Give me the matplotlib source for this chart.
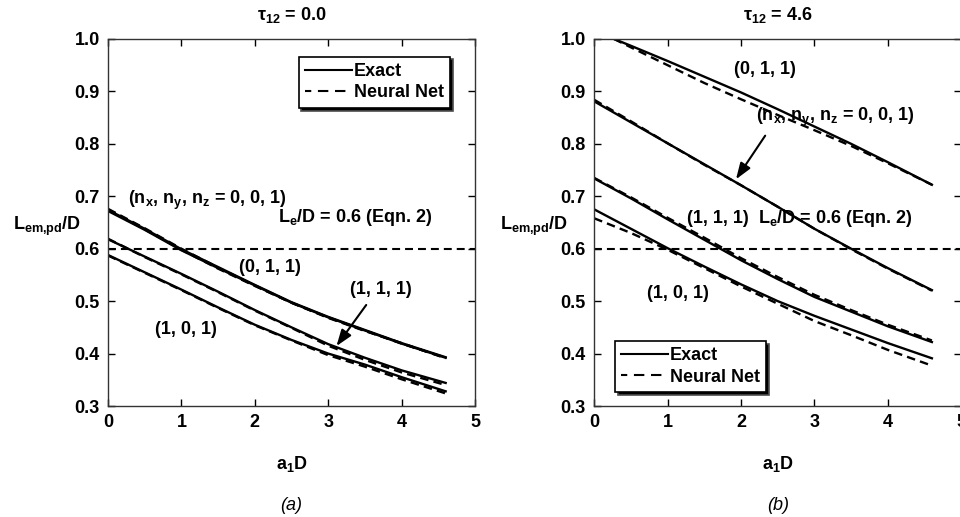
import matplotlib
matplotlib.use("Agg")
import matplotlib.pyplot as plt
from matplotlib.lines import Line2D

plt.rcParams['font.family'] = ['Liberation Sans', 'DejaVu Sans']
plt.rcParams['font.weight'] = 'bold'
plt.rcParams['mathtext.fontset'] = 'custom'
plt.rcParams['mathtext.rm'] = 'Liberation Sans:bold'
plt.rcParams['mathtext.it'] = 'Liberation Sans:bold'
plt.rcParams['mathtext.bf'] = 'Liberation Sans:bold'
plt.rcParams['mathtext.default'] = 'rm'

# ---- data ----
x = [0, 0.5, 1.0, 1.5, 2.0, 2.5, 3.0, 3.5, 4.0, 4.6]
x_r011 = [0.27, 0.5, 1.0, 1.5, 2.0, 2.5, 3.0, 3.5, 4.0, 4.6]

# (a) tau12 = 0.0
a001_exact = [0.672, 0.636, 0.597, 0.563, 0.530, 0.497, 0.469, 0.444, 0.419, 0.392]
a011_exact = [0.674, 0.638, 0.599, 0.565, 0.531, 0.498, 0.470, 0.445, 0.420, 0.393]
a111_exact = [0.618, 0.585, 0.552, 0.518, 0.483, 0.450, 0.418, 0.392, 0.368, 0.344]
a101_exact = [0.588, 0.555, 0.522, 0.488, 0.455, 0.426, 0.400, 0.379, 0.355, 0.328]
a001_nn = [0.675, 0.637, 0.598, 0.562, 0.529, 0.497, 0.468, 0.443, 0.420, 0.391]
a011_nn = [0.676, 0.639, 0.600, 0.564, 0.530, 0.497, 0.469, 0.444, 0.419, 0.392]
a111_nn = [0.619, 0.584, 0.551, 0.517, 0.482, 0.449, 0.415, 0.388, 0.364, 0.340]
a101_nn = [0.587, 0.554, 0.521, 0.487, 0.454, 0.425, 0.397, 0.375, 0.351, 0.324]

# (b) tau12 = 4.6
b011_exact = [1.0, 0.987, 0.958, 0.928, 0.898, 0.866, 0.833, 0.800, 0.765, 0.722]
b011_nn = [1.0, 0.984, 0.950, 0.916, 0.885, 0.855, 0.826, 0.796, 0.763, 0.722]
b001_exact = [0.881, 0.841, 0.801, 0.761, 0.721, 0.680, 0.638, 0.600, 0.563, 0.521]
b001_nn = [0.884, 0.843, 0.801, 0.760, 0.721, 0.680, 0.638, 0.599, 0.562, 0.520]
b111_exact = [0.734, 0.696, 0.656, 0.617, 0.578, 0.542, 0.508, 0.480, 0.452, 0.422]
b111_nn = [0.735, 0.698, 0.659, 0.621, 0.582, 0.546, 0.512, 0.483, 0.455, 0.425]
b101_exact = [0.675, 0.638, 0.601, 0.566, 0.532, 0.500, 0.472, 0.446, 0.420, 0.391]
b101_nn = [0.658, 0.630, 0.598, 0.563, 0.528, 0.495, 0.462, 0.435, 0.407, 0.377]

le_ratio = 0.6

fig = plt.figure(figsize=(9.6, 5.17), dpi=100)
axL = fig.add_axes([0.1125, 0.2147, 0.3823, 0.7099])
axR = fig.add_axes([0.619, 0.2147, 0.3823, 0.7099])

LW = 1.7
DASH = (0, (3.6, 2.2))
FS = 13
ARROW = dict(arrowstyle='-|>,head_length=0.7,head_width=0.25', color='black',
             lw=1.5, mutation_scale=14)


def style_axes(ax, title, panel):
    ax.set_xlim(0, 5)
    ax.set_ylim(0.3, 1.0)
    ax.set_xticks([0, 1, 2, 3, 4, 5])
    ax.set_yticks([0.3, 0.4, 0.5, 0.6, 0.7, 0.8, 0.9, 1.0])
    ax.set_yticklabels(['0.3', '0.4', '0.5', '0.6', '0.7', '0.8', '0.9', '1.0'])
    ax.tick_params(direction='in', top=True, right=True, length=5, width=1,
                   labelsize=FS, pad=6)
    for lab in ax.get_xticklabels() + ax.get_yticklabels():
        lab.set_fontweight('bold')
    for s in ax.spines.values():
        s.set_linewidth(1.0)
        s.set_color('#333333')
    ax.axhline(le_ratio, color='black', lw=1.5, ls=(0, (3.8, 2.4)))
    ax.text(0.5, 1.053, title, transform=ax.transAxes, ha='center',
            va='baseline', fontsize=FS, fontweight='bold')
    ax.text(0.5, -0.172, r'a$_1$D', transform=ax.transAxes, ha='center',
            va='baseline', fontsize=FS, fontweight='bold')
    ax.text(0.5, -0.284, panel, transform=ax.transAxes, ha='center',
            va='baseline', fontsize=FS, fontweight='normal', fontstyle='italic')
    ax.text(-0.258, 0.48, r'L$_{em{,}pd}$/D', transform=ax.transAxes, ha='left',
            va='baseline', fontsize=FS, fontweight='bold')


def add_legend(ax, **kw):
    handles = [Line2D([], [], color='black', lw=1.5),
               Line2D([], [], color='black', lw=1.5, ls=(2.0, (5.0, 3.2)))]
    leg = ax.legend(handles, ['Exact', 'Neural Net'], frameon=True, fancybox=False,
                    shadow={'facecolor': 'black', 'alpha': 1.0},
                    prop={'weight': 'bold', 'size': FS}, handlelength=2.6,
                    handletextpad=0.1, borderpad=0.35, labelspacing=0.25,
                    borderaxespad=0, **kw)
    leg.get_frame().set_edgecolor('black')
    leg.get_frame().set_linewidth(1.2)


# ---- panel (a) ----
style_axes(axL, r'$\tau_{12}$ = 0.0', '(a)')
for ye, yn in [(a001_exact, a001_nn), (a011_exact, a011_nn),
               (a111_exact, a111_nn), (a101_exact, a101_nn)]:
    axL.plot(x, ye, color='black', lw=LW)
    axL.plot(x, yn, color='black', lw=LW, ls=DASH)
add_legend(axL, loc='upper right', bbox_to_anchor=(0.932, 0.952))
axL.text(0.27, 0.693, r'(n$_x$, n$_y$, n$_z$ = 0, 0, 1)', fontsize=FS, va='center', ha='left')
axL.text(2.32, 0.659, r'L$_e$/D = 0.6 (Eqn. 2)', fontsize=FS, va='center', ha='left')
axL.text(2.2, 0.564, '(0, 1, 1)', fontsize=FS, va='center', ha='center')
axL.text(3.72, 0.522, '(1, 1, 1)', fontsize=FS, va='center', ha='center')
axL.text(1.06, 0.445, '(1, 0, 1)', fontsize=FS, va='center', ha='center')
axL.annotate('', xy=(3.09, 0.41), xytext=(3.54, 0.497), arrowprops=ARROW)

# ---- panel (b) ----
style_axes(axR, r'$\tau_{12}$ = 4.6', '(b)')
axR.plot(x_r011, b011_exact, color='black', lw=LW)
axR.plot(x_r011, b011_nn, color='black', lw=LW, ls=DASH)
for ye, yn in [(b001_exact, b001_nn), (b111_exact, b111_nn), (b101_exact, b101_nn)]:
    axR.plot(x, ye, color='black', lw=LW)
    axR.plot(x, yn, color='black', lw=LW, ls=DASH)
add_legend(axR, loc='lower left', bbox_to_anchor=(0.056, 0.038))
axR.text(2.32, 0.941, '(0, 1, 1)', fontsize=FS, va='center', ha='center')
axR.text(2.21, 0.851, r'(n$_x$, n$_y$, n$_z$ = 0, 0, 1)', fontsize=FS, va='center', ha='left')
axR.text(1.69, 0.658, '(1, 1, 1)', fontsize=FS, va='center', ha='center')
axR.text(2.23, 0.658, r'L$_e$/D = 0.6 (Eqn. 2)', fontsize=FS, va='center', ha='left')
axR.text(1.14, 0.514, '(1, 0, 1)', fontsize=FS, va='center', ha='center')
axR.annotate('', xy=(1.91, 0.728), xytext=(2.35, 0.82), arrowprops=ARROW)

fig.savefig('out.png', dpi=100)
